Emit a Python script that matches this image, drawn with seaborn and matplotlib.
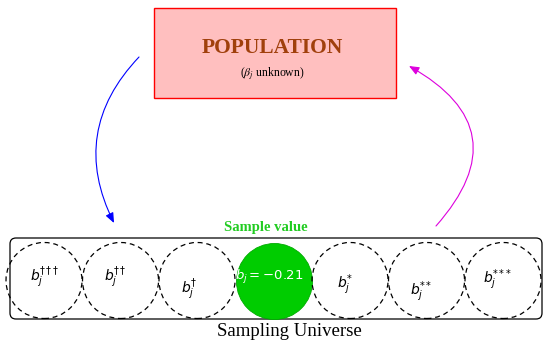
import numpy as np
import pandas as pd
import seaborn as sns
import matplotlib
matplotlib.use("Agg")
import matplotlib.pyplot as plt
from matplotlib.patches import FancyBboxPatch, Rectangle, FancyArrowPatch

sns.set_theme(style="white")

# ---- data ----
labels = [r"$b_j^{\dagger\!\dagger\!\dagger}$", r"$b_j^{\dagger\!\dagger}$", r"$b_j^{\dagger}$",
          r"$b_j = {-}0.21$", r"$b_j^{*}$", r"$b_j^{*\!*}$", r"$b_j^{*\!*\!*}$"]
sample_index = 3
sample_value = -0.21
title = "POPULATION"
subtitle = r"($\beta_j$ unknown)"
universe_label = "Sampling Universe"
sample_label = "Sample value"

W, H = 543, 340
fig = plt.figure(figsize=(W / 100, H / 100), dpi=100)
ax = fig.add_axes([0, 0, 1, 1])

serif = ["Liberation Serif", "DejaVu Serif"]

# circles via seaborn scatter
n = len(labels)
centers_x = 44 + 76.5 * np.arange(n)
cy = 280.5
df = pd.DataFrame({"x": centers_x, "y": [cy] * n, "kind": ["other"] * n})
df.loc[sample_index, "kind"] = "sample"
diam_pt = 76 * 0.72
s = diam_pt ** 2
others = df[df.kind == "other"]
sns.scatterplot(data=others, x="x", y="y", s=s, facecolor="none", edgecolor="black",
                linewidth=0.9, linestyle=(0, (4, 3)), ax=ax, legend=False, zorder=3)
samp = df[df.kind == "sample"]
sns.scatterplot(data=samp, x="x", y="y", s=s, color="#00cc00", edgecolor="#00aa00",
                linewidth=0.6, ax=ax, legend=False, zorder=2)
ax.set_xlim(0, W)
ax.set_ylim(H, 0)
ax.set_axis_off()

# population box
ax.add_patch(Rectangle((154, 8), 242, 90, facecolor="#ffbfbf", edgecolor="#ff0000", lw=1.0))
ax.text(272, 48, title, ha="center", va="center", fontsize=15.5, fontweight="bold",
        color="#a0400c", family=serif)
ax.text(272, 74, subtitle, ha="center", va="center", fontsize=8.5, color="black",
        family=serif, math_fontfamily="stix")

# sampling universe box
ax.add_patch(FancyBboxPatch((10, 238), 532, 81, boxstyle="round,pad=0,rounding_size=6",
                            facecolor="none", edgecolor="black", lw=0.9))

# labels in circles
dy = [-3, -3, 9, -4, 4, 11, -1]
dx = [0, -6, -8, -4, -5, -6, -6]
for i, lab in enumerate(labels):
    col = "white" if i == sample_index else "black"
    fs = 9.5 if i == sample_index else 10
    ax.text(centers_x[i] + dx[i], cy + dy[i], lab, ha="center", va="center",
            fontsize=fs, color=col, zorder=5)

ax.text(266, 227, sample_label, ha="center", va="center", fontsize=10.5, fontweight="bold",
        color="#22cc22", family=serif)
ax.text(289, 331, universe_label, ha="center", va="center", fontsize=13.5,
        color="black", family=serif)

# arrows
a1 = FancyArrowPatch((139, 57), (114, 223), connectionstyle="arc3,rad=0.35",
                     arrowstyle="-|>,head_length=6,head_width=2.5", color="#0000ff", lw=0.8,
                     shrinkA=0, shrinkB=0)
ax.add_patch(a1)
a2 = FancyArrowPatch((436, 226), (409, 66), connectionstyle="arc3,rad=0.62",
                     arrowstyle="-|>,head_length=6,head_width=2.5", color="#dd00dd", lw=0.8,
                     shrinkA=0, shrinkB=0)
ax.add_patch(a2)

fig.savefig("out.png", dpi=100)
